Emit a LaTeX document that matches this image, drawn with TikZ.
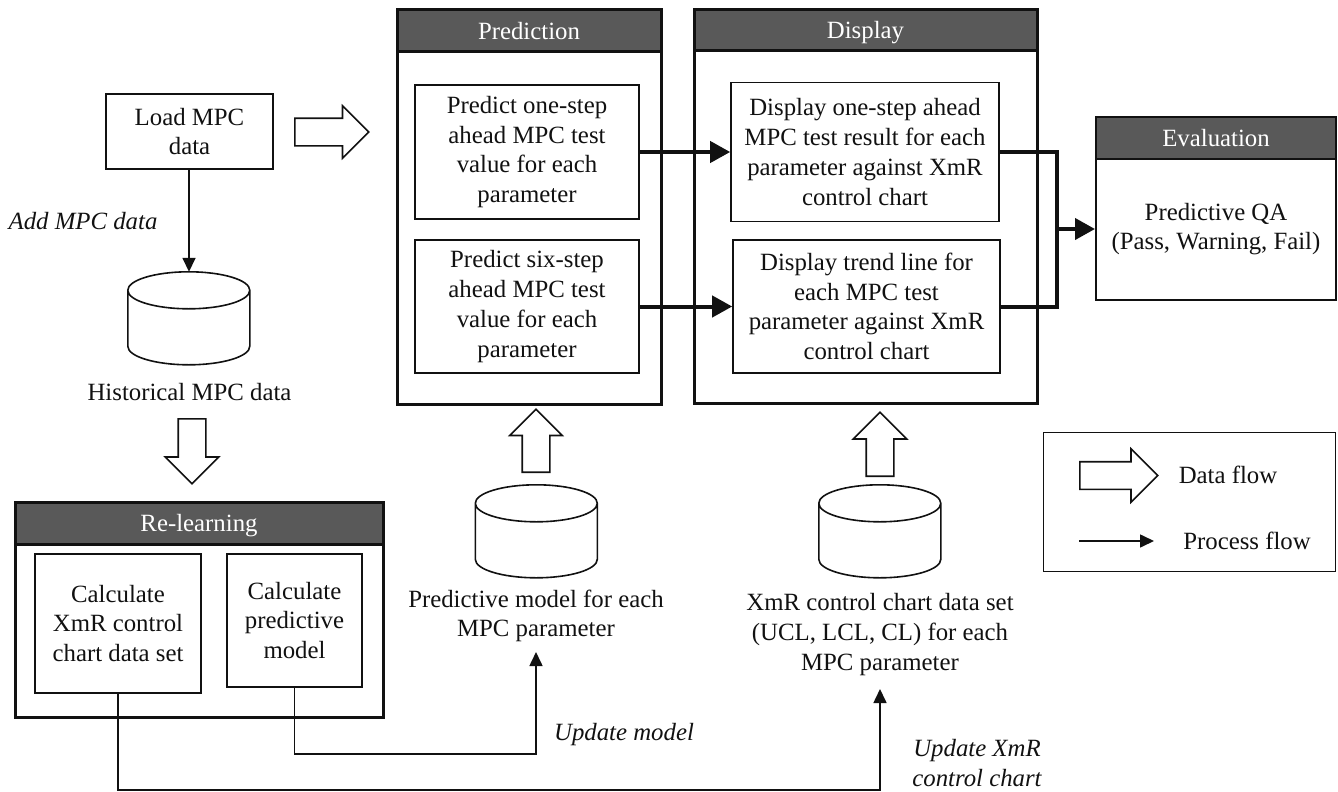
\documentclass[tikz,border=0pt]{standalone}
\usepackage{fontspec}
\setmainfont{Liberation Serif}
\usetikzlibrary{shapes.geometric,shapes.arrows,arrows.meta}
\definecolor{hdr}{HTML}{595959}
\definecolor{ink}{HTML}{111111}
\tikzset{
  txtbase/.style={font=\fontsize{24.8}{29.7}\selectfont,align=center,text=ink},
  panel/.style={draw=ink,line width=3pt,fill=white,inner sep=0pt},
  evalpanel/.style={draw=ink,line width=2pt,fill=white,inner sep=0pt,txtbase},
  headbar/.style={draw=ink,line width=3pt,fill=hdr,txtbase,text=white,inner sep=0pt,text height=19pt,text depth=2pt},
  innerbox/.style={draw=ink,line width=1.6pt,fill=white,inner sep=0pt,txtbase},
  plaintxt/.style={txtbase,inner sep=0pt},
  notetxt/.style={txtbase,inner sep=0pt,font=\fontsize{24.8}{29.7}\selectfont\itshape},
  hollow/.style={single arrow,draw=ink,line width=1.6pt,fill=white,inner sep=0pt,text height=26pt,text depth=0pt,single arrow head extend=#1,anchor=tail},
  hollow/.default=13pt,
  dbshape/.style={inner sep=0pt,minimum width=122pt,minimum height=93pt},
  dbline/.style={draw=ink,line width=1.6pt,fill=white},
  flowline/.style={draw=ink,line width=1.6pt,-{Triangle[length=14pt,width=13pt]}},
  bigflow/.style={draw=ink,line width=4pt,-{Triangle[length=20pt,width=21pt]}},
  joinline/.style={draw=ink,line width=4pt}
}
\newcommand{\dbcyl}[1]{%
  \draw[dbline] (#1.north west) ++(0,18.5)
    arc[start angle=180,end angle=540,x radius=61pt,y radius=18.5pt]
    -- ++(0,56)
    arc[start angle=180,end angle=360,x radius=61pt,y radius=18.5pt]
    -- ++(0,-56);}
\begin{document}
\begin{tikzpicture}[x=1pt,y=-1pt]
\useasboundingbox (0,0) rectangle (1338,792);
% Panels
\node[panel,minimum width=264pt,minimum height=394pt] (predP) at (529,207) {};
\node[headbar,minimum width=264pt,minimum height=42pt] (predH) at (529,31) {Prediction};
\node[panel,minimum width=343pt,minimum height=393pt] (dispP) at (865.5,206.5) {};
\node[headbar,minimum width=343pt,minimum height=41pt] (dispH) at (865.5,30.5) {Display};
\node[evalpanel,minimum width=240pt,minimum height=183pt] (evalP) at (1216,208.5) {};
\node[headbar,line width=2.4pt,minimum width=240pt,minimum height=42pt] (evalH) at (1216,138) {Evaluation};
\node[plaintxt] (qa) at (1216,229) {Predictive QA\\(Pass, Warning, Fail)};
\node[panel,minimum width=368pt,minimum height=215pt] (relP) at (199,609.5) {};
\node[headbar,minimum width=368pt,minimum height=42pt] (relH) at (199,523) {Re-learning};
% Inner boxes
\node[innerbox,minimum width=224pt,minimum height=134pt] (p1) at (527,152) {Predict one-step\\ahead MPC test\\value for each\\parameter};
\node[innerbox,minimum width=224pt,minimum height=133pt] (p2) at (527,306.5) {Predict six-step\\ahead MPC test\\value for each\\parameter};
\node[innerbox,minimum width=268pt,minimum height=139pt] (d1) at (865,152) {Display one-step ahead\\MPC test result for each\\parameter against XmR\\control chart};
\node[innerbox,minimum width=267pt,minimum height=133pt] (d2) at (866.5,306.5) {Display trend line for\\each MPC test\\parameter against XmR\\control chart};
\node[innerbox,minimum width=167pt,minimum height=75pt] (load) at (189.5,131.5) {Load MPC\\data};
\node[innerbox,minimum width=166pt,minimum height=139pt] (r1) at (118,623.5) {Calculate\\XmR control\\chart data set};
\node[innerbox,minimum width=135pt,minimum height=133pt] (r2) at (294.5,620.5) {Calculate\\predictive\\model};
% Databases
\node[dbshape] (hist) at (189,318.5) {};
\node[dbshape] (model) at (536.5,531.5) {};
\node[dbshape] (xmr) at (880,531.5) {};
\dbcyl{hist}\dbcyl{model}\dbcyl{xmr}
\node[plaintxt] (histT) at (189.5,392) {Historical MPC data};
\node[plaintxt] (modelT) at (536,616) {Predictive model for each\\MPC parameter};
\node[plaintxt] (xmrT) at (880,634.5) {XmR control chart data set\\(UCL, LCL, CL) for each\\MPC parameter};
% Hollow arrows
\node[hollow=12.5pt,minimum height=74pt] (a1) at (294,132) {};
\node[hollow=13pt,minimum height=65pt,rotate=-90] (a2) at (192,418) {};
\node[hollow=12.5pt,minimum height=63pt,rotate=90] (a3) at (536,473) {};
\node[hollow=13pt,minimum height=64pt,rotate=90] (a4) at (880,477) {};
% Legend
\node[draw=ink,line width=1pt,fill=white,minimum width=292pt,minimum height=139pt,inner sep=0pt] (legend) at (1189,501.5) {};
\node[hollow=13pt,minimum height=78pt] (a5) at (1079,475.5) {};
\node[plaintxt] (dfT) at (1228,475) {Data flow};
\node[plaintxt] (pfT) at (1247,541) {Process flow};
\coordinate (ps) at (1079,541);
\coordinate (pe) at (1154,541);
\draw[flowline] (ps) -- (pe);
% Thin connectors
\draw[flowline] (load.south -| hist) -- (hist.north);
\coordinate (m1) at (294.5,754);
\coordinate (m2) at (536,754);
\coordinate (m3) at (536,652);
\draw[flowline] (r2.south) -- (m1) -- (m2) -- (m3);
\coordinate (x1) at (118,790);
\coordinate (x2) at (880,790);
\coordinate (x3) at (880,689);
\draw[flowline] (r1.south) -- (x1) -- (x2) -- (x3);
% Thick connectors
\draw[bigflow] (p1.east) -- (d1.west);
\draw[bigflow] (p2.east) -- (d2.west);
\coordinate (j1) at (1057,152);
\coordinate (j2) at (1057,306.5);
\coordinate (j3) at (1057,229);
\draw[joinline,line join=miter] (d1.east) -- (j1) -- (j2) -- (d2.east);
\draw[bigflow] (j3) -- (evalP.west |- j3);
% Notes
\node[notetxt] (n1) at (83,221) {Add MPC data};
\node[notetxt] (n2) at (624,735) {Update model};
\node[notetxt] (n3) at (977,763) {Update XmR\\control chart};
\end{tikzpicture}
\end{document}
